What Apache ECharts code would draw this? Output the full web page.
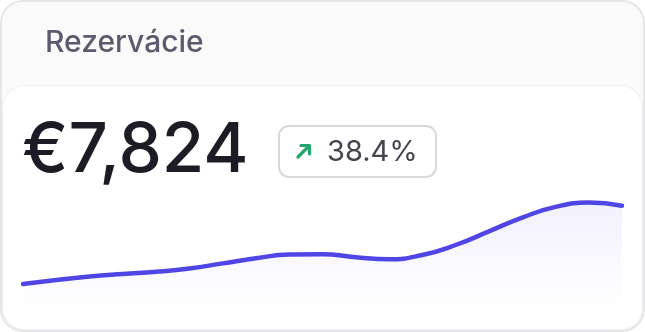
<!DOCTYPE html>
<html>
<head>
<meta charset="utf-8">
<title>Rezervácie</title>
<script src="https://cdn.jsdelivr.net/npm/echarts@6/dist/echarts.min.js"></script>
<style>
  html, body { margin: 0; padding: 0; background: #ffffff; }
  #chart { width: 645px; height: 332px; }
</style>
</head>
<body>
<div id="chart"></div>
<script>
// Card texts
const cardTitle = 'Rezervácie';
const totalValue = '€7,824';
const changeLabel = '38.4%';

// Sparkline data
const days = ['1', '2', '3', '4', '5', '6', '7', '8', '9', '10',
              '11', '12', '13', '14', '15', '16', '17', '18', '19'];
const bookings = [26, 30, 33.5, 36, 38.2, 41.5, 46.6, 51.7, 55.5, 55.8,
                  52.7, 50.8, 55, 65, 78.6, 92.4, 103.1, 107.4, 104.3];

const chart = echarts.init(document.getElementById('chart'));

const option = {
    animation: false,
    grid: { left: 23, right: 23, top: 190, bottom: 22 },
    xAxis: {
        type: 'category',
        data: days,
        boundaryGap: false,
        show: false
    },
    yAxis: {
        type: 'value',
        min: 0,
        max: 120,
        show: false
    },
    graphic: [
        // outer card
        {
            type: 'rect', z: 0,
            shape: { x: 1, y: 1, width: 643, height: 330, r: 22 },
            style: { fill: '#fafafb', stroke: '#e6e6e9', lineWidth: 2 }
        },
        // inner card
        {
            type: 'rect', z: 0,
            shape: { x: 2.5, y: 85.5, width: 640, height: 244, r: 22 },
            style: { fill: '#ffffff', stroke: '#efeff1', lineWidth: 1 }
        },
        {
            type: 'text', z: 10,
            style: {
                text: cardTitle, x: 45, y: 43,
                font: '500 30px Inter', fill: '#5b5a6e',
                textAlign: 'left', textVerticalAlign: 'middle'
            }
        },
        {
            type: 'text', z: 10,
            style: {
                text: totalValue, x: 22, y: 151,
                font: '500 69px Inter', fill: '#1c1c27',
                textAlign: 'left', textVerticalAlign: 'middle'
            }
        },
        // change badge
        {
            type: 'rect', z: 10,
            shape: { x: 279, y: 126, width: 157, height: 51, r: 10 },
            style: { fill: '#ffffff', stroke: '#d9d9dc', lineWidth: 2 }
        },
        {
            type: 'polyline', z: 11,
            shape: { points: [[298, 157], [309, 146]] },
            style: { stroke: '#22a56c', lineWidth: 3.2, lineCap: 'round' }
        },
        {
            type: 'polyline', z: 11,
            shape: { points: [[301, 145.5], [309.5, 145.5], [309.5, 154]] },
            style: { stroke: '#22a56c', lineWidth: 3.2, lineCap: 'round', lineJoin: 'round', fill: null }
        },
        {
            type: 'text', z: 11,
            style: {
                text: changeLabel, x: 327, y: 152,
                font: '400 29px Inter', fill: '#45444f',
                textAlign: 'left', textVerticalAlign: 'middle'
            }
        }
    ],
    series: [{
        type: 'line',
        z: 5,
        data: bookings,
        smooth: 0.5,
        symbol: 'none',
        lineStyle: { color: '#4f46e5', width: 4.5, cap: 'round' },
        areaStyle: {
            color: new echarts.graphic.LinearGradient(0, 0, 0, 1, [
                { offset: 0, color: 'rgba(79, 70, 229, 0.11)' },
                { offset: 1, color: 'rgba(79, 70, 229, 0)' }
            ])
        }
    }]
};

chart.setOption(option);

window.addEventListener('resize', function() {
    chart.resize();
});
</script>
</body>
</html>
